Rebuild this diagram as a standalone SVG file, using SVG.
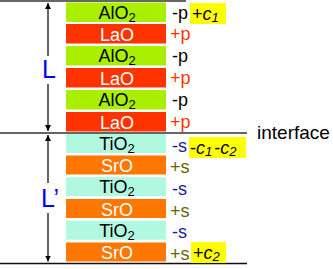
<svg xmlns="http://www.w3.org/2000/svg" width="333" height="269" viewBox="0 0 333 269">
<defs>
<marker id="ah" markerWidth="6" markerHeight="8" refX="6" refY="3" orient="auto" markerUnits="userSpaceOnUse" viewBox="0 0 6 6">
<path d="M0,0 L6,3 L0,6 z" fill="#000"/>
</marker>
<style>
text{font-family:"Liberation Sans",Arial,sans-serif;font-size:18px}
.al{fill:#aaee00}.la{fill:#ff3300}.ti{fill:#b0f8e0}.sr{fill:#ff7700}
.dk{fill:#000}.wh{fill:#fff}
.mp{fill:#000}.pp{fill:#ff3300}.ms{fill:#1a1a99}.ps{fill:#666600}
.hl{fill:#ffff00}
.big{fill:#0000ff;font-size:25px}
.c{text-anchor:middle}
.sub{font-size:13px}
</style>
</defs>
<rect width="333" height="269" fill="#fff"/>
<g id="lines" stroke-linecap="butt">
<line x1="0" y1="1" x2="186" y2="1" stroke="#333" stroke-width="1.5"/>
<line x1="0" y1="133" x2="247" y2="133" stroke="#666" stroke-width="2"/>
<line x1="0" y1="263.5" x2="247" y2="263.5" stroke="#111" stroke-width="1.5"/>
</g>
<g id="connectors" stroke="#000" stroke-width="1.2">
<line x1="48" y1="56" x2="48" y2="3" marker-end="url(#ah)"/>
<line x1="48" y1="84" x2="48" y2="131" marker-end="url(#ah)"/>
<line x1="48" y1="183" x2="48" y2="135" marker-end="url(#ah)"/>
<line x1="48" y1="213" x2="48" y2="261.5" marker-end="url(#ah)"/>
</g>
<g id="L"><text x="42" y="78" class="big">L</text></g>
<g id="Lp"><text x="41" y="207" class="big">L’</text></g>
<g id="layer1"><rect x="66" y="2.5" width="100" height="19.5" class="al"/><text x="117" y="18.5" class="c dk">AlO<tspan class="sub" dy="3">2</tspan></text></g>
<g id="layer2"><rect x="66" y="24" width="100" height="19.5" class="la"/><text x="117" y="40.5" class="c wh">LaO</text></g>
<g id="layer3"><rect x="66" y="46" width="100" height="19.5" class="al"/><text x="117" y="62" class="c dk">AlO<tspan class="sub" dy="3">2</tspan></text></g>
<g id="layer4"><rect x="66" y="68" width="100" height="19.5" class="la"/><text x="117" y="84.5" class="c wh">LaO</text></g>
<g id="layer5"><rect x="66" y="90" width="100" height="19.5" class="al"/><text x="117" y="106" class="c dk">AlO<tspan class="sub" dy="3">2</tspan></text></g>
<g id="layer6"><rect x="66" y="112" width="100" height="19.5" class="la"/><text x="117" y="128.5" class="c wh">LaO</text></g>
<g id="layer7"><rect x="66" y="134" width="100" height="19" class="ti"/><text x="117" y="150" class="c dk">TiO<tspan class="sub" dy="3">2</tspan></text></g>
<g id="layer8"><rect x="66" y="155.5" width="100" height="19" class="sr"/><text x="117" y="172" class="c wh">SrO</text></g>
<g id="layer9"><rect x="66" y="177.2" width="100" height="19" class="ti"/><text x="117" y="193.2" class="c dk">TiO<tspan class="sub" dy="3">2</tspan></text></g>
<g id="layer10"><rect x="66" y="199" width="100" height="19" class="sr"/><text x="117" y="215.5" class="c wh">SrO</text></g>
<g id="layer11"><rect x="66" y="220.7" width="100" height="19" class="ti"/><text x="117" y="236.7" class="c dk">TiO<tspan class="sub" dy="3">2</tspan></text></g>
<g id="layer12"><rect x="66" y="242.5" width="100" height="19" class="sr"/><text x="117" y="259" class="c wh">SrO</text></g>
<g id="charges">
<text x="172" y="18.5" class="mp">-p</text>
<text x="170" y="40" class="pp">+p</text>
<text x="172" y="62" class="mp">-p</text>
<text x="170" y="84" class="pp">+p</text>
<text x="172" y="106" class="mp">-p</text>
<text x="170" y="128" class="pp">+p</text>
<text x="172" y="152" class="ms">-s</text>
<text x="170" y="173" class="ps">+s</text>
<text x="172" y="195" class="ms">-s</text>
<text x="170" y="216.5" class="ps">+s</text>
<text x="172" y="238" class="ms">-s</text>
<text x="170" y="260" class="ps">+s</text>
</g>
<g id="c1">
<rect x="190" y="3" width="36" height="21" class="hl"/>
<text x="192" y="19.5" class="dk">+<tspan font-style="italic">c</tspan><tspan font-style="italic" class="sub" dy="2">1</tspan></text>
</g>
<g id="c1c2">
<rect x="189" y="137" width="57" height="21" class="hl"/>
<text x="190" y="153.5" class="dk">-<tspan font-style="italic">c</tspan><tspan font-style="italic" class="sub" dy="2">1</tspan><tspan dy="-2" dx="2">-</tspan><tspan font-style="italic">c</tspan><tspan font-style="italic" class="sub" dy="2">2</tspan></text>
</g>
<g id="c2">
<rect x="191" y="242" width="35" height="21" class="hl"/>
<text x="193" y="258.5" class="dk">+<tspan font-style="italic">c</tspan><tspan font-style="italic" class="sub" dy="2">2</tspan></text>
</g>
<g id="interface"><text x="257" y="139" style="font-size:19px" class="dk">interface</text></g>
</svg>
